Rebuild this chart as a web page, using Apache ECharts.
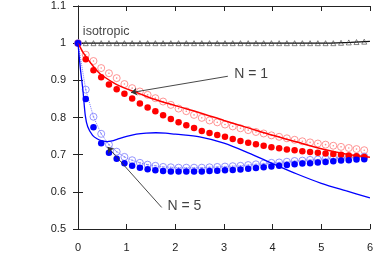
<!DOCTYPE html>
<html><head><meta charset="utf-8">
<script src="https://cdn.jsdelivr.net/npm/echarts@6/dist/echarts.min.js"></script>
<style>html,body{margin:0;padding:0;background:#fff}#c{width:376px;height:273px}</style>
</head><body><div id="c"></div>
<script>
var xTicks = [0,1,2,3,4,5,6];
var yTicks = [0.5,0.6,0.7,0.8,0.9,1,1.1];
var xs = [0,0.159,0.318,0.477,0.636,0.795,0.954,1.113,1.272,1.431,1.59,1.749,1.908,2.067,2.226,2.385,2.544,2.703,2.862,3.021,3.18,3.339,3.498,3.657,3.816,3.975,4.134,4.293,4.452,4.611,4.77,4.929,5.088,5.247,5.406,5.565,5.724,5.883];
var isoTri = [1,1,1,1,1,1,1,1,1,1,1,1,1,1,1,1,1,1,1,1,1,1,1,1,1,1,1,1,1,1,1,1,1,1,1.001,1.002,1.003,1.004];
var isoLine = [[0,1],[5.2,1],[5.6,1.002],[6,1.005]];
var n1Filled = [1.000,0.957,0.927,0.908,0.889,0.876,0.864,0.851,0.838,0.827,0.817,0.806,0.796,0.787,0.779,0.772,0.764,0.758,0.753,0.748,0.742,0.737,0.732,0.728,0.724,0.720,0.717,0.714,0.712,0.709,0.707,0.705,0.703,0.702,0.700,0.698,0.696,0.694];
var n1Open = [1.000,0.969,0.952,0.933,0.919,0.906,0.890,0.879,0.870,0.861,0.852,0.843,0.834,0.824,0.817,0.807,0.799,0.792,0.787,0.781,0.776,0.771,0.766,0.761,0.757,0.752,0.748,0.744,0.740,0.736,0.733,0.730,0.727,0.724,0.721,0.718,0.715,0.712];
var n1Line = [[0,1],[0.05,0.988],[0.1,0.976],[0.2,0.957],[0.3,0.940],[0.42,0.922],[0.5,0.913],[0.75,0.892],[1,0.877],[1.25,0.865],[1.5,0.852],[2,0.832],[2.5,0.813],[3,0.792],[3.5,0.772],[4,0.752],[4.5,0.734],[5,0.716],[5.5,0.702],[6,0.693]];
var n5Filled = [1.000,0.850,0.774,0.731,0.705,0.689,0.677,0.670,0.665,0.661,0.658,0.656,0.655,0.655,0.655,0.655,0.655,0.656,0.657,0.658,0.659,0.660,0.662,0.664,0.666,0.668,0.670,0.672,0.674,0.676,0.677,0.679,0.680,0.682,0.684,0.685,0.687,0.688];
var n5Open = [1.000,0.875,0.802,0.756,0.727,0.708,0.694,0.685,0.678,0.673,0.670,0.667,0.666,0.665,0.665,0.665,0.665,0.666,0.667,0.668,0.669,0.670,0.672,0.674,0.676,0.678,0.679,0.681,0.683,0.684,0.686,0.687,0.689,0.690,0.691,0.692,0.694,0.695];
var n5Line = [[0,1],[0.05,0.93],[0.1,0.875],[0.15,0.805],[0.2,0.775],[0.3,0.752],[0.4,0.742],[0.5,0.737],[0.6,0.735],[0.7,0.737],[0.8,0.741],[1.0,0.749],[1.2,0.755],[1.4,0.758],[1.6,0.759],[1.8,0.758],[2.0,0.755],[2.5,0.748],[3.0,0.731],[3.5,0.705],[4.0,0.676],[4.5,0.648],[5.0,0.623],[5.5,0.603],[6.0,0.584]];
var labels = [
  {text:'isotropic', x:0.10, y:1.030, size:12.5},
  {text:'N = 1', x:3.21, y:0.918, size:14},
  {text:'N = 5', x:1.84, y:0.561, size:14}
];
var arrows = [
  [[3.08,0.911],[1.09,0.867]],
  [[1.72,0.558],[0.607,0.721]]
];

function pair(y){ return xs.map(function(x,i){ return [x, y[i]]; }); }
var FONT = 'Liberation Sans';
var axisCommon = {
  axisLine:{show:true, lineStyle:{color:'#222', width:1}},
  axisTick:{show:true, inside:true, length:5, lineStyle:{color:'#222', width:1}},
  splitLine:{show:false}
};
function ring(color){ return {color:'rgba(255,255,255,0)', borderColor:color, borderWidth:0.8, opacity:1}; }
var chart = echarts.init(document.getElementById('c'), null, {renderer:'canvas'});
var opt = {
  animation:false,
  backgroundColor:'#fff',
  textStyle:{fontFamily:FONT},
  grid:{left:78, right:6, top:6, bottom:44},
  xAxis:[
    Object.assign({type:'value', min:xTicks[0], max:xTicks[xTicks.length-1], interval:1, position:'bottom',
      axisLabel:{show:true, margin:13, fontSize:11, color:'#222', fontFamily:FONT,
        formatter:function(v){ var i=xTicks.indexOf(v); return i>=0?String(xTicks[i]):''; }}}, axisCommon),
    Object.assign({type:'value', min:xTicks[0], max:xTicks[xTicks.length-1], interval:1, position:'top',
      axisLabel:{show:false}}, axisCommon)
  ],
  yAxis:[
    Object.assign({type:'value', min:0.5, max:1.1, interval:0.1, position:'left',
      axisLabel:{show:true, margin:12, fontSize:11, color:'#222', fontFamily:FONT,
        formatter:function(v){ var r=Math.round(v*10)/10; return String(r); }}}, axisCommon),
    Object.assign({type:'value', min:0.5, max:1.1, interval:0.1, position:'right',
      axisLabel:{show:false}}, axisCommon)
  ],
  series:[
    {type:'line', data:isoLine, showSymbol:false, symbol:'none', lineStyle:{color:'#111', width:1.2}, z:2},
    {type:'scatter', data:pair(isoTri).slice(1), symbol:'triangle', symbolSize:5,
      itemStyle:{color:'rgba(255,255,255,0)', borderColor:'#333', borderWidth:0.6, opacity:1}, z:3},
    {type:'line', data:pair(n5Open), symbol:'none', lineStyle:{width:1, type:'dotted', color:'#7a7aff'}, z:2},
    {type:'scatter', data:pair(n1Open), symbol:'circle', symbolSize:7, itemStyle:ring('#ff7a7a'), z:3},
    {type:'scatter', data:pair(n1Open), symbol:'circle', symbolSize:1.6, itemStyle:{color:'#ff8a8a', opacity:1}, z:4},
    {type:'scatter', data:pair(n5Open), symbol:'circle', symbolSize:7, itemStyle:ring('#7a7aff'), z:3},
    {type:'scatter', data:pair(n5Open), symbol:'circle', symbolSize:1.6, itemStyle:{color:'#8a8aff', opacity:1}, z:4},
    {type:'scatter', data:pair(n1Filled), symbol:'circle', symbolSize:6.5, itemStyle:{color:'#f00', opacity:1}, z:5},
    {type:'scatter', data:pair(n5Filled), symbol:'circle', symbolSize:6.5, itemStyle:{color:'#00f', opacity:1}, z:6},
    {type:'line', data:n1Line, symbol:'none', smooth:0.3, lineStyle:{color:'#f00', width:1.5}, z:7},
    {type:'line', data:n5Line, symbol:'none', smooth:0.3, lineStyle:{color:'#00f', width:1.3}, z:7},
    {type:'lines', coordinateSystem:'cartesian2d', symbol:['none','arrow'], symbolSize:6,
      lineStyle:{color:'#333', width:0.9, opacity:1},
      data:arrows.map(function(a){ return {coords:a}; }), z:8},
    {type:'scatter', symbolSize:0, z:9,
      data:labels.map(function(l){ return {value:[l.x,l.y], label:{show:true, position:'right', distance:0,
        formatter:l.text, fontSize:l.size, color:'#111', fontFamily:FONT}}; })}
  ]
};
chart.setOption(opt);
</script></body></html>
